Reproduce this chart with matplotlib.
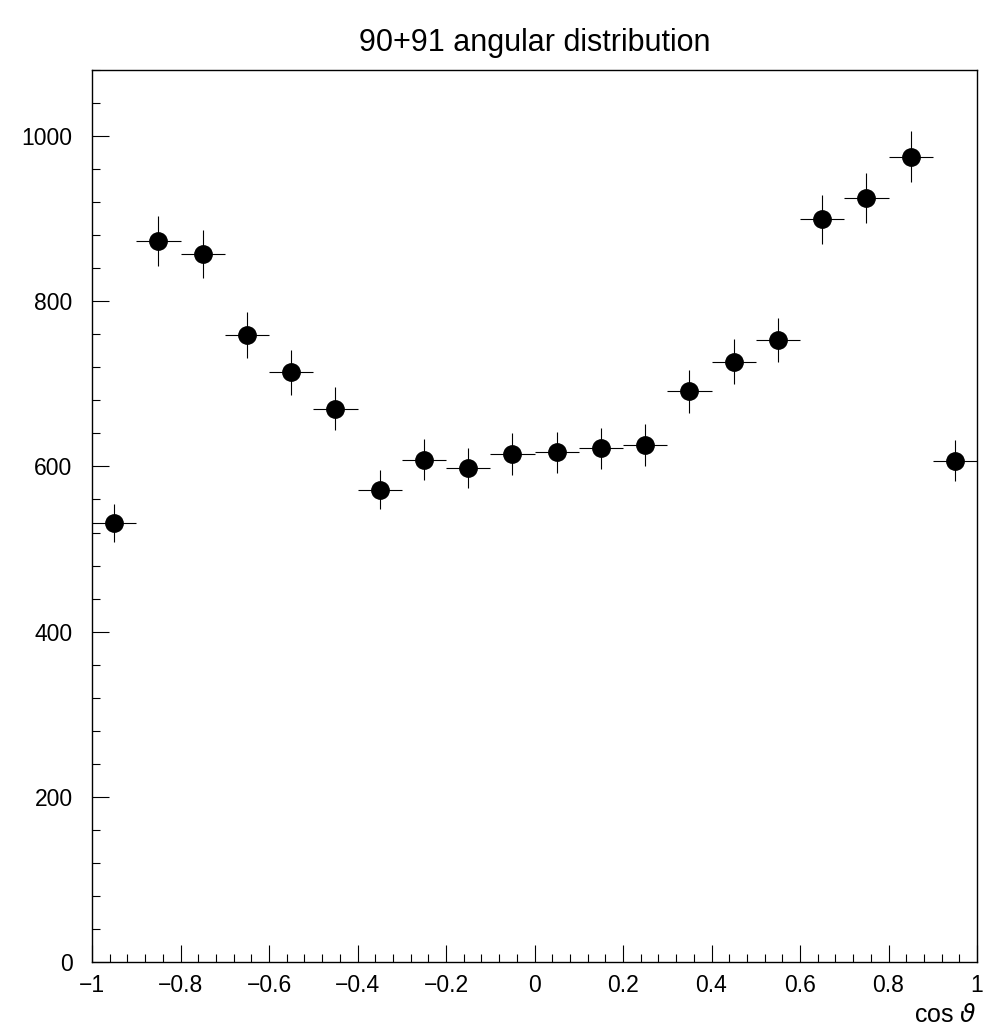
import numpy as np
import matplotlib
matplotlib.use('Agg')
import matplotlib.pyplot as plt
from matplotlib.ticker import MultipleLocator

# bin centres in cos(theta), 20 bins of width 0.1
cos_theta = [-0.95, -0.85, -0.75, -0.65, -0.55, -0.45, -0.35, -0.25, -0.15, -0.05,
             0.05, 0.15, 0.25, 0.35, 0.45, 0.55, 0.65, 0.75, 0.85, 0.95]
counts = [531, 873, 857, 759, 714, 670, 572, 608, 598, 615,
          617, 622, 626, 691, 727, 753, 899, 925, 975, 607]
count_err = [23, 30, 29, 28, 27, 26, 24, 25, 24, 25,
             25, 25, 25, 26, 27, 27, 30, 30, 31, 25]
bin_half = [0.05] * len(cos_theta)

plt.rcParams['font.family'] = ['Liberation Sans', 'DejaVu Sans']

fig = plt.figure(figsize=(9.84, 10.27), dpi=100)
ax = fig.add_axes([92 / 984, 1 - 962 / 1027, (977 - 92) / 984, (962 - 70) / 1027])

ax.errorbar(cos_theta, counts, xerr=bin_half, yerr=count_err, fmt='o',
            color='black', markersize=12.5, elinewidth=0.8, capsize=0)

ax.set_xlim(-1, 1)
ax.set_ylim(0, 1080)

ax.xaxis.set_major_locator(MultipleLocator(0.2))
ax.xaxis.set_minor_locator(MultipleLocator(0.04))
ax.yaxis.set_major_locator(MultipleLocator(200))
ax.yaxis.set_minor_locator(MultipleLocator(40))

ax.tick_params(which='both', direction='in', top=False, right=False,
               labelsize=16.5, width=0.8, colors='black')
ax.tick_params(axis='x', which='major', length=12, pad=9)
ax.tick_params(axis='x', which='minor', length=6)
ax.tick_params(axis='y', which='major', length=12, pad=14)
ax.tick_params(axis='y', which='minor', length=6)

ax.set_xticks([-1, -0.8, -0.6, -0.4, -0.2, 0, 0.2, 0.4, 0.6, 0.8, 1])
ax.set_xticklabels(['\u22121', '\u22120.8', '\u22120.6', '\u22120.4', '\u22120.2', '0',
                    '0.2', '0.4', '0.6', '0.8', '1'])

for s in ax.spines.values():
    s.set_linewidth(1.0)

ax.set_title('90+91 angular distribution', fontsize=22, pad=14)
ax.set_xlabel('cos $\\vartheta$', fontsize=18, loc='right', labelpad=4)

fig.savefig('out.png', dpi=100)
